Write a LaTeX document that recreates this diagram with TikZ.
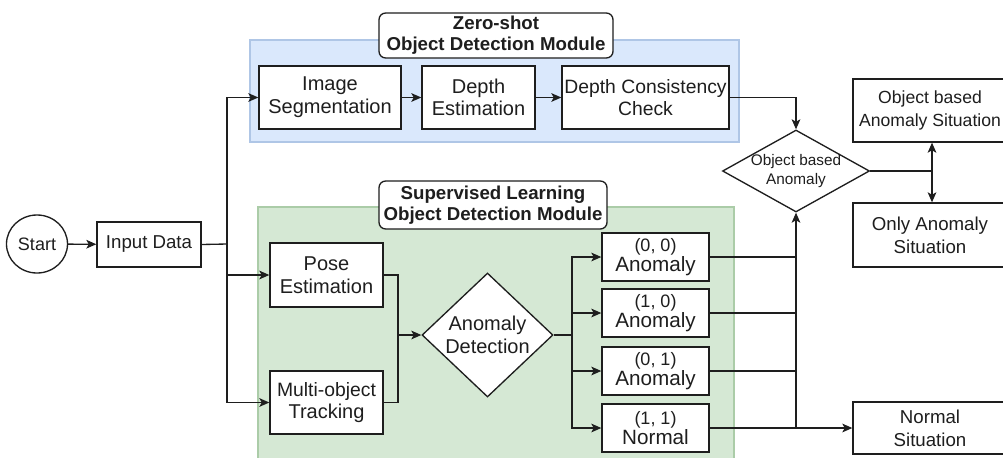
\documentclass[tikz,border=0pt]{standalone}
\usepackage{fontspec}
\setmainfont{Liberation Sans}
\usetikzlibrary{shapes.geometric,arrows.meta}
\definecolor{bluefill}{HTML}{DAE8FC}
\definecolor{blueline}{HTML}{AFC6E6}
\definecolor{greenfill}{HTML}{D5E8D4}
\definecolor{greenline}{HTML}{ABCCA8}
\definecolor{ink}{HTML}{1E1E1E}
\begin{document}
\begin{tikzpicture}[x=0.75pt,y=-0.75pt,
  base/.style={draw=ink, fill=white, line width=1pt, inner sep=0pt, align=center, text=ink},
  box/.style={base, rectangle, font=\fontsize{15}{17}\selectfont},
  rbox/.style={base, rectangle, font=\fontsize{14}{17}\selectfont},
  obox/.style={base, rectangle, minimum width=80.25pt, minimum height=36pt},
  dia/.style={base, diamond},
  grp/.style={rectangle, line width=0.8pt, inner sep=0pt},
  hdr/.style={base, rectangle, rounded corners=5pt, font=\fontsize{14}{16}\selectfont\bfseries},
  conn/.style={draw=ink, line width=1pt},
  arr/.style={conn, -{Stealth[length=7.5pt,width=6.5pt,inset=1.8pt]}}
]
\useasboundingbox (0,0) rectangle (1003,457);
\fill[white] (0,0) rectangle (1003,457);

% group regions
\node[grp, draw=blueline, fill=bluefill, minimum width=366.75pt, minimum height=76.5pt] (gz) at (494.5,91) {};
\node[grp, draw=greenline, fill=greenfill, minimum width=357pt, minimum height=197.25pt] (gs) at (496,338.5) {};
\node[hdr, minimum width=175.5pt, minimum height=33.75pt] (hz) at (496,35.5) {Zero-shot\\Object Detection Module};
\node[hdr, minimum width=171pt, minimum height=36pt] (hs) at (493,205) {Supervised Learning\\Object Detection Module};

% nodes
\node[base, ellipse, minimum width=45.75pt, minimum height=43.5pt, font=\fontsize{13.5}{16}\selectfont] (start) at (37,244) {Start};
\node[box, minimum width=78pt, minimum height=33.75pt, font=\fontsize{14}{16}\selectfont] (input) at (149,244.5) {Input Data};

\node[box, minimum width=106.5pt, minimum height=47.25pt] (seg) at (330,97.5) {Image\\Segmentation};
\node[box, minimum width=84.75pt, minimum height=47.25pt] (dep) at (478.5,97.5) {Depth\\Estimation};
\node[box, minimum width=125.25pt, minimum height=47.25pt, font=\fontsize{14.5}{17}\selectfont] (dcc) at (645.5,97.5) {Depth Consistency\\Check};

\node[dia, minimum width=110.25pt, minimum height=61.5pt] (oba) at (796,171) {};
\node[text=ink, align=center, font=\fontsize{11.5}{14}\selectfont] (obat) at (oba) {Object based\\Anomaly};

\node[rbox, minimum width=115.5pt, minimum height=47.25pt, font=\fontsize{13.2}{17}\selectfont] (obs) at (930,110.5) {Object based\\Anomaly Situation};
\node[rbox, minimum width=115.5pt, minimum height=48pt] (oas) at (930,235) {Only Anomaly\\Situation};
\node[rbox, minimum width=115.5pt, minimum height=39pt] (ns) at (930,428) {Normal\\Situation};

\node[box, minimum width=84.75pt, minimum height=48pt] (pose) at (326.5,275) {Pose\\Estimation};
\node[box, minimum width=84.75pt, minimum height=47.25pt, font=\fontsize{14.5}{17}\selectfont] (trk) at (326.5,402.5) {Multi-object\\{\fontsize{15}{17}\selectfont Tracking}};

\node[dia, minimum width=98.25pt, minimum height=93pt] (ad) at (487.5,335) {};
\node[text=ink, align=center, font=\fontsize{15}{17}\selectfont] (adt) at (ad) {Anomaly\\Detection};

\node[obox] (o1) at (655.5,257) {{\fontsize{13.5}{16}\selectfont (0, 0)}\\{\fontsize{15.5}{18}\selectfont Anomaly}};
\node[obox] (o2) at (655.5,313) {{\fontsize{13.5}{16}\selectfont (1, 0)}\\{\fontsize{15.5}{18}\selectfont Anomaly}};
\node[obox] (o3) at (655.5,371) {{\fontsize{13.5}{16}\selectfont (0, 1)}\\{\fontsize{15.5}{18}\selectfont Anomaly}};
\node[obox] (o4) at (655.5,428) {{\fontsize{13.5}{16}\selectfont (1, 1)}\\{\fontsize{15.5}{18}\selectfont Normal}};

% junction coordinates
\coordinate (j1) at (227,244);
\coordinate (m1) at (398,335);
\coordinate (s1) at (572,335);
\coordinate (s2) at (932,171);

% connectors
\draw[arr] (start) -- (input);
\draw[conn] (input.east) -- (j1);
\draw[arr] (j1) |- (seg.west);
\draw[arr] (j1) |- (pose.west);
\draw[arr] (j1) |- (trk.west);
\draw[arr] (seg) -- (dep);
\draw[arr] (dep) -- (dcc);
\draw[arr] (dcc.east) -| (oba.north);

\draw[conn] (pose.east) -| (m1);
\draw[conn] (trk.east) -| (m1);
\draw[arr] (m1) -- (ad.west);

\draw[conn] (ad.east) -- (s1);
\draw[arr] (s1) |- (o1.west);
\draw[arr] (s1) |- (o2.west);
\draw[arr] (s1) |- (o3.west);
\draw[arr] (s1) |- (o4.west);

\draw[conn] (o1.east) -- (o1.east -| oba.south);
\draw[conn] (o2.east) -- (o2.east -| oba.south);
\draw[conn] (o3.east) -- (o3.east -| oba.south);
\draw[arr] (o4.east) -| (oba.south);
\draw[arr] (o4.east) -- (ns.west);

\draw[conn] (oba.east) -- (s2);
\draw[arr] (s2) -- (s2 |- obs.south);
\draw[arr] (s2) -- (s2 |- oas.north);
\end{tikzpicture}
\end{document}
